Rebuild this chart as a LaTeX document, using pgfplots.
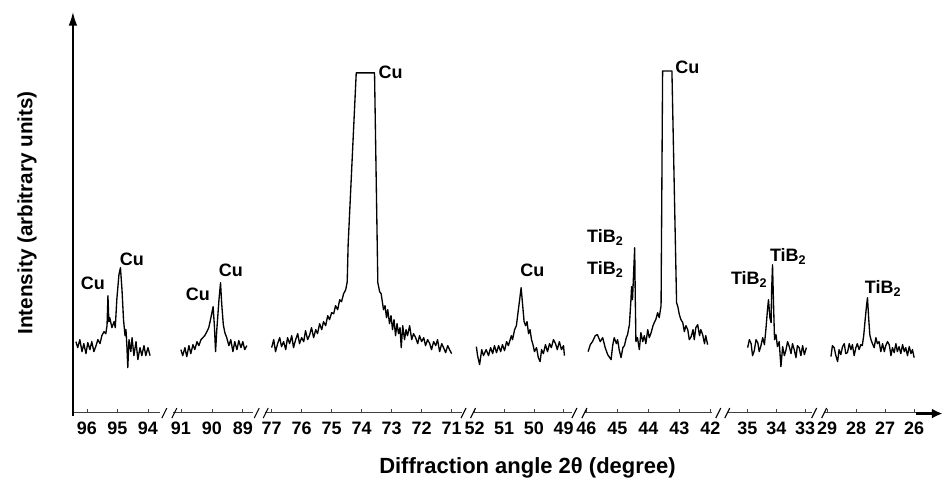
\documentclass[border=0pt]{standalone}
\usepackage{fontspec}
\setmainfont{Liberation Sans}
\usepackage{pgfplots}
\pgfplotsset{compat=1.18}
\usetikzlibrary{arrows.meta}

% one axis per 2theta window; 1 px of the reference = 0.75pt
\pgfplotsset{
  seg/.style={
    scale only axis, anchor=south west,
    height=294.75pt, ymin=-3, ymax=390,
    x dir=reverse,
    axis y line=none,
    axis x line*=bottom,
    xtick align=inside,
    major tick length=2.5pt,
    axis line style={line width=0.6pt, black!75},
    tick style={line width=0.5pt, black!75},
    xticklabel style={font=\fontsize{13.5}{15}\selectfont\bfseries, yshift=-3.5pt},
    /pgf/number format/assume math mode=true,
    xtick distance=1,
    clip=false,
  },
  spec/.style={black, line width=1pt, line join=round, no marks},
}

\begin{document}
\begin{tikzpicture}
\begin{scope}[shift={(0,363pt)}, x=0.75pt, y=-0.75pt]
  \path[use as bounding box] (0,0) rectangle (944,484);
\end{scope}

\begin{axis}[seg, at={(54pt,53.25pt)}, width=66pt, xmin=93.61, xmax=96.49]
\addplot[spec] coordinates {(96.36,68)(96.30,62)(96.23,70)(96.16,58)(96.10,66)(96.03,56)(95.97,67)(95.90,60)(95.84,68)(95.77,58)(95.70,64)(95.64,70)(95.57,66)(95.51,74)(95.44,78)(95.38,76)(95.34,84)(95.31,114)(95.28,88)(95.25,92)(95.18,82)(95.11,88)(95.07,82)(95.02,110)(94.95,135)(94.90,142)(94.85,120)(94.80,90)(94.75,74)(94.72,80)(94.69,64)(94.66,42)(94.62,70)(94.56,58)(94.52,72)(94.46,54)(94.39,68)(94.33,50)(94.26,62)(94.20,54)(94.13,64)(94.07,54)(94.00,62)(93.93,54)};
\end{axis}

\begin{axis}[seg, at={(129.75pt,53.25pt)}, width=60pt, xmin=88.68, xmax=91.26]
\addplot[spec] coordinates {(91.00,60)(90.94,54)(90.87,62)(90.81,53)(90.74,64)(90.68,56)(90.61,65)(90.55,60)(90.48,68)(90.42,64)(90.35,70)(90.29,72)(90.23,74)(90.16,78)(90.10,82)(90.03,92)(89.96,103)(89.92,85)(89.88,58)(89.84,80)(89.77,110)(89.72,127)(89.68,105)(89.63,85)(89.58,77)(89.52,72)(89.45,64)(89.39,70)(89.32,58)(89.26,68)(89.19,60)(89.13,69)(89.06,62)(89.00,68)(88.94,60)(88.87,64)};
\end{axis}

\begin{axis}[seg, at={(198.75pt,53.25pt)}, width=147.75pt, xmin=70.67, xmax=77.23]
\addplot[spec] coordinates {(77.00,62)(76.93,70)(76.87,58)(76.80,66)(76.73,72)(76.67,63)(76.60,68)(76.53,60)(76.47,72)(76.40,66)(76.33,74)(76.27,62)(76.20,70)(76.13,76)(76.07,66)(76.00,72)(75.93,68)(75.87,79)(75.80,70)(75.73,75)(75.67,82)(75.60,72)(75.53,80)(75.47,76)(75.40,86)(75.33,80)(75.27,88)(75.20,84)(75.13,94)(75.07,90)(75.00,97)(74.93,96)(74.87,104)(74.80,100)(74.73,110)(74.67,108)(74.60,116)(74.53,120)(74.48,128)(74.45,165)(74.18,337)(73.57,337)(73.46,127)(73.40,118)(73.35,116)(73.30,106)(73.27,100)(73.22,104)(73.17,92)(73.13,100)(73.07,86)(73.02,94)(72.97,80)(72.92,90)(72.87,74)(72.82,86)(72.77,76)(72.72,82)(72.68,62)(72.63,84)(72.57,70)(72.52,80)(72.47,74)(72.40,84)(72.33,70)(72.27,76)(72.20,72)(72.13,66)(72.07,74)(72.00,68)(71.93,72)(71.87,64)(71.80,70)(71.73,66)(71.67,60)(71.60,68)(71.53,64)(71.47,70)(71.40,58)(71.33,66)(71.27,62)(71.20,57)(71.13,64)(71.07,60)(71.00,56)};
\end{axis}

\begin{axis}[seg, at={(354.75pt,53.25pt)}, width=75pt, xmin=48.70, xmax=52.07]
\addplot[spec] coordinates {(51.94,63)(51.90,54)(51.83,45)(51.76,60)(51.70,54)(51.61,60)(51.53,54)(51.46,62)(51.39,56)(51.33,64)(51.26,57)(51.19,64)(51.12,58)(51.06,65)(50.99,59)(50.92,68)(50.86,64)(50.76,74)(50.72,70)(50.65,80)(50.59,84)(50.54,96)(50.48,110)(50.43,122)(50.38,105)(50.33,88)(50.28,84)(50.23,88)(50.18,76)(50.13,80)(50.08,70)(50.03,65)(49.98,58)(49.91,62)(49.85,52)(49.79,48)(49.74,60)(49.68,56)(49.61,65)(49.54,58)(49.47,66)(49.41,62)(49.34,70)(49.27,66)(49.21,60)(49.14,68)(49.07,60)(49.00,64)(48.97,54)};
\end{axis}

\begin{axis}[seg, at={(438.75pt,53.25pt)}, width=96pt, xmin=41.94, xmax=46.06]
\addplot[spec] coordinates {(45.94,58)(45.87,65)(45.80,68)(45.71,74)(45.64,75)(45.55,68)(45.47,72)(45.39,62)(45.31,55)(45.20,50)(45.15,64)(45.10,72)(45.03,66)(44.99,70)(44.94,60)(44.88,52)(44.82,62)(44.77,64)(44.71,72)(44.67,75)(44.61,85)(44.56,110)(44.54,123)(44.51,110)(44.47,140)(44.44,162)(44.42,110)(44.40,68)(44.35,72)(44.29,60)(44.24,77)(44.18,68)(44.13,74)(44.08,66)(44.02,80)(43.97,72)(43.91,77)(43.85,84)(43.81,87)(43.76,90)(43.70,97)(43.65,92)(43.59,104)(43.54,339)(43.24,339)(43.09,107)(43.05,103)(43.00,95)(42.95,90)(42.89,87)(42.84,78)(42.79,84)(42.73,80)(42.68,70)(42.62,73)(42.56,80)(42.52,70)(42.47,82)(42.41,85)(42.35,74)(42.31,80)(42.25,75)(42.19,66)(42.15,74)(42.09,65)};
\end{axis}

\begin{axis}[seg, at={(546.75pt,53.25pt)}, width=63pt, xmin=32.76, xmax=35.66]
\addplot[spec] coordinates {(34.99,62)(34.93,70)(34.87,66)(34.82,54)(34.76,59)(34.70,70)(34.64,67)(34.59,58)(34.53,64)(34.47,72)(34.41,65)(34.36,80)(34.31,98)(34.27,110)(34.22,92)(34.18,87)(34.16,120)(34.13,145)(34.09,100)(34.06,70)(34.01,75)(33.96,63)(33.90,68)(33.84,43)(33.78,63)(33.72,54)(33.67,59)(33.61,68)(33.55,63)(33.49,56)(33.44,66)(33.38,60)(33.32,52)(33.27,64)(33.21,62)(33.15,54)(33.09,64)(33.03,55)(32.96,62)};
\end{axis}

\begin{axis}[seg, at={(619.5pt,53.25pt)}, width=69pt, xmin=25.90, xmax=29.07]
\addplot[spec] coordinates {(28.87,53)(28.82,64)(28.76,62)(28.70,54)(28.64,48)(28.59,60)(28.53,55)(28.47,63)(28.41,66)(28.36,56)(28.30,57)(28.24,66)(28.18,60)(28.13,65)(28.07,54)(28.01,62)(27.96,66)(27.90,60)(27.84,65)(27.79,64)(27.74,74)(27.69,90)(27.64,105)(27.61,112)(27.57,92)(27.53,75)(27.49,70)(27.44,66)(27.38,62)(27.32,72)(27.27,66)(27.21,68)(27.15,58)(27.09,66)(27.03,58)(26.98,64)(26.92,68)(26.86,65)(26.80,54)(26.75,62)(26.69,57)(26.63,66)(26.58,58)(26.52,63)(26.46,56)(26.40,65)(26.34,58)(26.29,62)(26.23,54)(26.17,63)(26.11,56)(26.06,60)(26.00,52)};
\end{axis}

% annotations in reference pixel coordinates
\begin{scope}[shift={(0,363pt)}, x=0.75pt, y=-0.75pt,
  lab/.style={font=\fontsize{13.5}{15}\selectfont\bfseries, inner sep=0pt}]
  \draw[line width=2pt, -{Latex[length=11pt,width=6.5pt]}] (73,416) -- (73,11);
  \draw[line width=2.2pt, -{Latex[length=8pt,width=7.5pt]}] (917,414) -- (943.5,414);
  \foreach \c in {164.5,174.5,257,266,464,473.5,575,585,719,728,815,825}
    \draw[line width=0.8pt] (\c-2.5,418.5) -- (\c+2.5,408.5);
  \node[lab] at (93,284) {Cu};
  \node[lab] at (132,260) {Cu};
  \node[lab] at (198,295) {Cu};
  \node[lab] at (231,271) {Cu};
  \node[lab] at (391,72) {Cu};
  \node[lab] at (533,271) {Cu};
  \node[lab] at (606,238) {TiB\textsubscript{2}};
  \node[lab] at (606,270) {TiB\textsubscript{2}};
  \node[lab] at (688,67) {Cu};
  \node[lab] at (750,280) {TiB\textsubscript{2}};
  \node[lab] at (789,257) {TiB\textsubscript{2}};
  \node[lab] at (884,289) {TiB\textsubscript{2}};
  \node[rotate=90, font=\fontsize{15.5}{18}\selectfont\bfseries] at (27,213) {Intensity (arbitrary units)};
  \node[font=\fontsize{16.5}{19}\selectfont\bfseries] at (528,468) {Diffraction angle 2θ (degree)};
\end{scope}
\end{tikzpicture}
\end{document}
